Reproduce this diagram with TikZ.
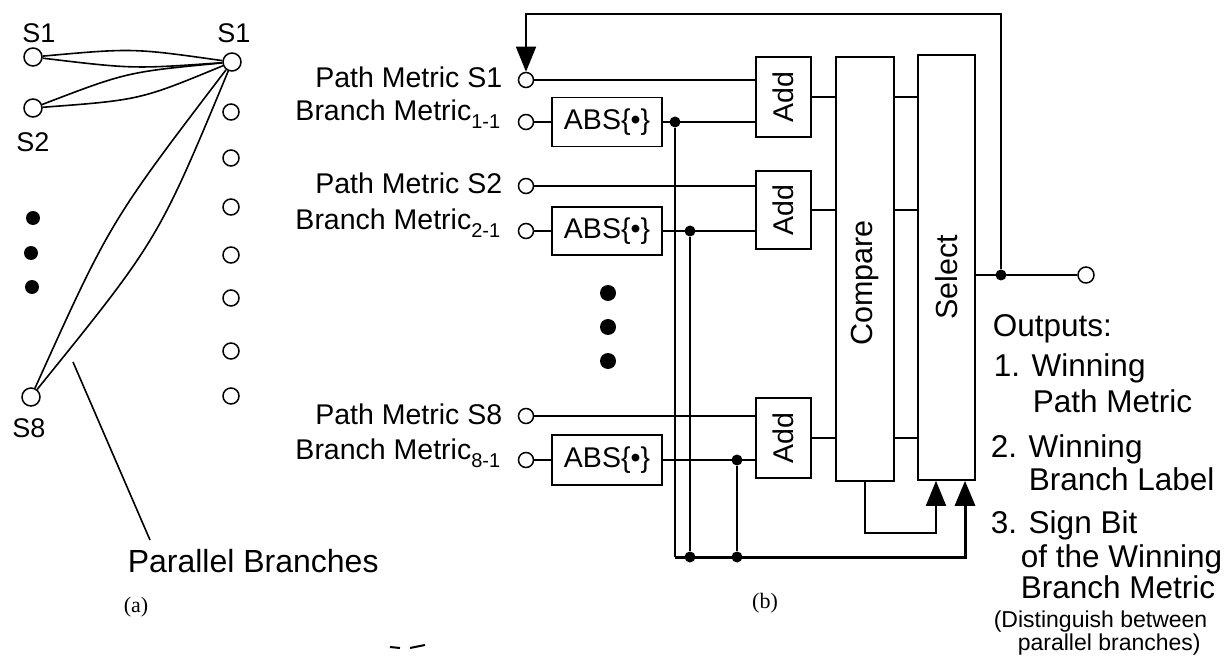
\documentclass[tikz,border=0pt]{standalone}
\usepackage{fontspec}
\setmainfont{Liberation Sans}
\newfontfamily\capserif{Liberation Serif}
\usetikzlibrary{arrows.meta}
\newcommand\mysub[1]{\raisebox{-8pt}{\fontsize{20}{20}\selectfont #1}}
\begin{document}
\begin{tikzpicture}[x=1pt,y=-1pt,
  line width=1.6pt,
  port/.style={circle,draw,fill=white,minimum size=15pt,inner sep=0pt,line width=1.5pt},
  bport/.style={port,minimum size=18pt},
  dotfill/.style={circle,fill=black,minimum size=14pt,inner sep=0pt},
  jdot/.style={circle,fill=black,minimum size=11pt,inner sep=0pt},
  box/.style={draw,line width=1.6pt,inner sep=0pt,font=\fontsize{28.5}{30}\selectfont},
  lab/.style={font=\fontsize{28.5}{30}\selectfont,inner sep=0pt},
  slab/.style={font=\fontsize{27}{29}\selectfont,inner sep=0pt},
  vlab/.style={font=\fontsize{30.5}{32}\selectfont,inner sep=0pt,rotate=90},
  outtxt/.style={font=\fontsize{31.5}{33}\selectfont,inner sep=0pt,anchor=base west},
  smalltxt/.style={font=\fontsize{23}{25}\selectfont,inner sep=0pt,anchor=base west},
  captxt/.style={font=\capserif\fontsize{22}{24}\selectfont,inner sep=0pt},
  arr/.style={-{Triangle[length=25pt,width=20pt]}},
  bus/.style={line width=3pt},
]
\useasboundingbox (0,0) rectangle (1229,660);

% ---------------- (a) ----------------
\node[bport] (L1) at (33,57) {};
\node[bport] (L2) at (33,108) {};
\node[bport] (L8) at (31,397) {};
\node[bport] (R1) at (232,62) {};
\foreach \i/\y in {2/112,3/158,4/207,5/255,6/298,7/351,8/396}
  \node[port,minimum size=16pt] (rc\i) at (231,\y) {};
\foreach \i/\x/\y in {1/33/218,2/31/253,3/32/287}
  \node[dotfill] (ld\i) at (\x,\y) {};

\draw (L1) .. controls (133,48) .. (R1);
\draw (L1) .. controls (133,69) .. (R1);
\draw (L2) .. controls (127,72) .. (R1);
\draw (L2) .. controls (140,100) .. (R1);
\draw (L8) .. controls (110,222) .. (R1);
\draw (L8) .. controls (158,240) .. (R1);

\node[slab] (sa1) at (39,33) {S1};
\node[slab] (sa2) at (33,142) {S2};
\node[slab] (sa8) at (29,428) {S8};
\node[slab] (sb1) at (234,33) {S1};

\coordinate (pbA) at (73,362);
\coordinate (pbB) at (150,540);
\draw (pbA) -- (pbB);
\node[font=\fontsize{32}{34}\selectfont,inner sep=0pt,anchor=base west] (pbt) at (127,572) {Parallel Branches};
\node[captxt] (capa) at (136,607) {(a)};

% ---------------- (b) ----------------
\node[port] (pm1) at (526,80) {};
\node[port] (bm1) at (526,122) {};
\node[port] (pm2) at (526,186) {};
\node[port] (bm2) at (526,231) {};
\node[port] (pm8) at (526,416) {};
\node[port] (bm8) at (526,460) {};

\node[lab,anchor=base east] (tpm1) at (503,88) {Path Metric S1};
\node[lab,anchor=base east] (tbm1) at (501,121) {Branch Metric\mysub{1-1}};
\node[lab,anchor=base east] (tpm2) at (503,194) {Path Metric S2};
\node[lab,anchor=base east] (tbm2) at (501,230) {Branch Metric\mysub{2-1}};
\node[lab,anchor=base east] (tpm8) at (503,424) {Path Metric S8};
\node[lab,anchor=base east] (tbm8) at (501,459) {Branch Metric\mysub{8-1}};

\node[box,minimum width=110pt,minimum height=49pt] (abs1) at (607,122) {ABS\{\textbullet\}};
\node[box,minimum width=110pt,minimum height=48pt] (abs2) at (607,231) {ABS\{\textbullet\}};
\node[box,minimum width=110pt,minimum height=50pt] (abs8) at (607,460) {ABS\{\textbullet\}};

\node[box,minimum width=55pt,minimum height=80pt] (add1) at (783.5,97) {};
\node[box,minimum width=55pt,minimum height=78pt] (add2) at (783.5,210) {};
\node[box,minimum width=55pt,minimum height=80pt] (add8) at (783.5,438) {};
\node[lab,rotate=90] (add1t) at (add1) {Add};
\node[lab,rotate=90] (add2t) at (add2) {Add};
\node[lab,rotate=90] (add8t) at (add8) {Add};

\node[box,minimum width=58pt,minimum height=424pt] (cmp) at (865,269) {};
\node[box,minimum width=57pt,minimum height=425pt] (sel) at (946.5,267.5) {};
\node[vlab] (cmpt) at (865,283) {Compare};
\node[vlab] (selt) at (946.5,277) {Select};

\foreach \i/\y in {1/293,2/327,3/361}
  \node[dotfill,minimum size=16pt] (bd\i) at (608,\y) {};

% inputs
\draw (pm1) -- (pm1 -| add1.west);
\draw (pm2) -- (pm2 -| add2.west);
\draw (pm8) -- (pm8 -| add8.west);
\draw (bm1) -- (abs1);
\draw (bm2) -- (abs2);
\draw (bm8) -- (abs8);
\draw (abs1) -- (abs1 -| add1.west);
\draw (abs2) -- (abs2 -| add2.west);
\draw (abs8) -- (abs8 -| add8.west);

\node[jdot] (j1) at (675,122) {};
\node[jdot] (j2) at (690,231) {};
\node[jdot] (j3) at (737,460) {};
\coordinate (bl) at (675,557);
\node[jdot] (jb2) at (690,557) {};
\node[jdot] (jb3) at (737,557) {};
\coordinate (br) at (965,557);
\draw (j1) -- (bl);
\draw (j2) -- (jb2);
\draw (j3) -- (jb3);
\draw[bus,arr] (bl) -- (br) -- (br |- sel.south);

% add -> compare -> select
\draw (add1) -- (add1 -| cmp.west);
\draw (add2) -- (add2 -| cmp.west);
\draw (add8) -- (add8 -| cmp.west);
\draw (add1 -| cmp.east) -- (add1 -| sel.west);
\draw (add2 -| cmp.east) -- (add2 -| sel.west);
\draw (add8 -| cmp.east) -- (add8 -| sel.west);

\coordinate (lp) at (936,533);
\draw[arr] (cmp.south) |- (lp) -- (lp |- sel.south);

% output and feedback
\node[port,minimum size=16pt] (outc) at (1086,275) {};
\node[jdot] (jo) at (1001,275) {};
\draw (sel.east |- outc) -- (outc);
\coordinate (fb) at (526,14);
\draw[arr] (jo) |- (fb) -- (pm1.north);

% outputs text
\node[outtxt] (o0) at (992,337) {Outputs:};
\node[outtxt] (o1) at (993,377) {1. Winning};
\node[outtxt] (o2) at (1032,412) {Path Metric};
\node[outtxt] (o3) at (990,457) {2. Winning};
\node[outtxt] (o4) at (1028,490) {Branch Label};
\node[outtxt] (o5) at (990,533) {3. Sign Bit};
\node[outtxt] (o6) at (1020,567) {of the Winning};
\node[outtxt] (o7) at (1020,598) {Branch Metric};
\node[smalltxt] (o8) at (993,627) {(Distinguish between};
\node[smalltxt] (o9) at (1017,650) {parallel branches)};

\node[captxt] (capb) at (765,603) {(b)};

% small marks near the bottom
\draw[line width=2pt] (390,647) -- (400,648);
\draw[line width=2pt] (410,648) -- (425,645);
\end{tikzpicture}
\end{document}
